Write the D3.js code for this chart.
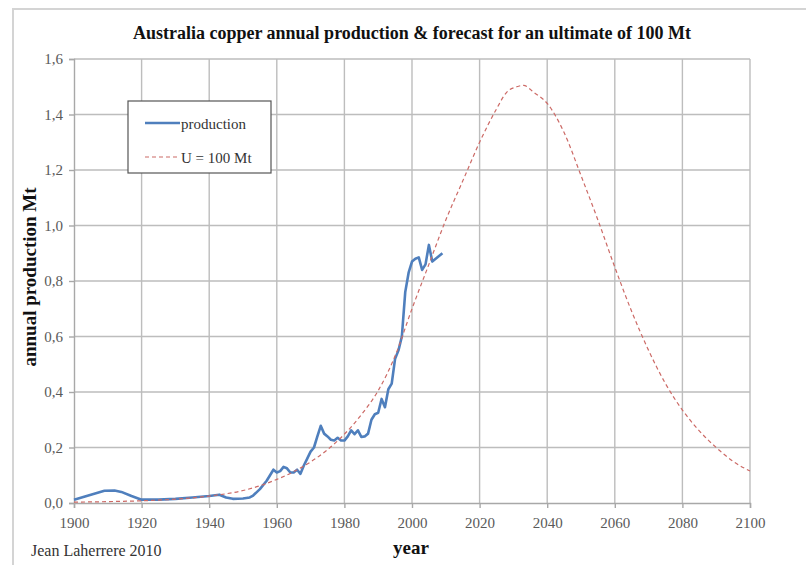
<!DOCTYPE html>
<html>
<head>
<meta charset="utf-8">
<script src="https://cdn.jsdelivr.net/npm/d3@7"></script>
<style>
  html, body { margin: 0; padding: 0; background: #fff; }
  svg { display: block; }
</style>
</head>
<body>
<svg id="chart" width="806" height="565"></svg>
<script>
// Australian copper: historical annual production (Mt)
const prodYears = [1900, 1905, 1909, 1912, 1914, 1917, 1920, 1925, 1930, 1935, 1940, 1943, 1945, 1947, 1950, 1952, 1953,
  1955, 1957, 1958, 1959, 1960, 1961, 1962, 1963, 1964, 1965, 1966, 1967, 1968, 1969, 1970, 1971, 1972, 1973, 1974,
  1975, 1976, 1977, 1978, 1979, 1980, 1981, 1982, 1983, 1984, 1985, 1986, 1987, 1988, 1989, 1990, 1991, 1992, 1993,
  1994, 1995, 1996, 1997, 1998, 1999, 2000, 2001, 2002, 2003, 2004, 2005, 2006, 2007, 2008, 2009];
const prodValues = [0.012, 0.03, 0.044, 0.045, 0.04, 0.025, 0.012, 0.012, 0.015, 0.02, 0.025, 0.03, 0.02, 0.015, 0.016, 0.02, 0.027,
  0.05, 0.08, 0.10, 0.12, 0.11, 0.115, 0.13, 0.125, 0.11, 0.11, 0.12, 0.105, 0.135, 0.16, 0.185, 0.20, 0.24, 0.278, 0.25,
  0.24, 0.228, 0.225, 0.235, 0.225, 0.225, 0.24, 0.262, 0.248, 0.262, 0.238, 0.24, 0.25, 0.30, 0.32, 0.325, 0.375, 0.345, 0.41,
  0.43, 0.52, 0.55, 0.60, 0.76, 0.83, 0.87, 0.88, 0.885, 0.84, 0.86, 0.93, 0.87, 0.88, 0.89, 0.90];

// Forecast curve for an ultimate of 100 Mt
const fcYears = [1900, 1910, 1920, 1930, 1940, 1950, 1955, 1960, 1965, 1970, 1975, 1980, 1985, 1990, 1995, 2000, 2005,
  2010, 2015, 2020, 2025, 2028, 2031, 2033, 2036, 2040, 2045, 2050, 2055, 2060, 2065, 2070, 2075, 2080, 2085, 2090, 2095, 2100];
const fcValues = [0.003, 0.005, 0.008, 0.014, 0.025, 0.045, 0.062, 0.085, 0.113, 0.148, 0.192, 0.248, 0.318, 0.405, 0.53, 0.70, 0.86,
  1.02, 1.16, 1.30, 1.42, 1.48, 1.50, 1.505, 1.48, 1.44, 1.335, 1.18, 1.02, 0.85, 0.69, 0.55, 0.43, 0.335, 0.26, 0.20, 0.15, 0.115];

const xTicks = [1900, 1920, 1940, 1960, 1980, 2000, 2020, 2040, 2060, 2080, 2100];
const yTicks = [0, 0.2, 0.4, 0.6, 0.8, 1.0, 1.2, 1.4, 1.6];

const titleText = "Australia copper annual production & forecast for an ultimate of 100 Mt";
const seriesNames = ["production", "U = 100 Mt"];

const svg = d3.select("#chart");
const serif = "'Liberation Serif', 'Times New Roman', serif";

const plot = { left: 74, right: 750, top: 59, bottom: 503 };
const x = d3.scaleLinear().domain([1900, 2100]).range([plot.left, plot.right]);
const y = d3.scaleLinear().domain([0, 1.6]).range([plot.bottom, plot.top]);

// outer frame
svg.append("rect")
  .attr("x", 13).attr("y", 9).attr("width", 820).attr("height", 600)
  .attr("fill", "none").attr("stroke", "#d4d4d4").attr("stroke-width", 2);

// title
svg.append("text")
  .attr("x", 412).attr("y", 39)
  .attr("text-anchor", "middle")
  .style("font-family", serif).style("font-weight", "bold").style("font-size", "18px")
  .attr("fill", "#111")
  .text(titleText);

const gridColor = "#bdbdbd";

// gridlines
const grid = svg.append("g");
grid.selectAll("line.v").data(xTicks.slice(1)).join("line")
  .attr("x1", d => x(d)).attr("x2", d => x(d))
  .attr("y1", plot.top).attr("y2", plot.bottom)
  .attr("stroke", gridColor).attr("stroke-width", 1.4);
grid.selectAll("line.h").data(yTicks.slice(1)).join("line")
  .attr("x1", plot.left).attr("x2", plot.right)
  .attr("y1", d => y(d)).attr("y2", d => y(d))
  .attr("stroke", gridColor).attr("stroke-width", 1.4);

// axes
const fmt = d => d3.format(".1f")(d).replace(".", ",");
const yAxis = svg.append("g")
  .attr("transform", `translate(${plot.left},0)`)
  .call(d3.axisLeft(y).tickValues(yTicks).tickFormat(fmt).tickSize(5).tickPadding(6));
const xAxis = svg.append("g")
  .attr("transform", `translate(0,${plot.bottom})`)
  .call(d3.axisBottom(x).tickValues(xTicks).tickFormat(d3.format("d")).tickSize(5).tickPadding(9));
[yAxis, xAxis].forEach(g => {
  g.select(".domain").attr("stroke", "#a8a8a8").attr("stroke-width", 1.4);
  g.selectAll(".tick line").attr("stroke", "#a8a8a8").attr("stroke-width", 1.4);
  g.selectAll(".tick text")
    .style("font-family", serif).style("font-size", "15px").attr("fill", "#5a5a5a");
});

// axis titles
svg.append("text")
  .attr("transform", "translate(36,277) rotate(-90)")
  .attr("text-anchor", "middle")
  .style("font-family", serif).style("font-weight", "bold").style("font-size", "19px")
  .attr("fill", "#111")
  .text("annual production Mt");
svg.append("text")
  .attr("x", 411).attr("y", 554)
  .attr("text-anchor", "middle")
  .style("font-family", serif).style("font-weight", "bold").style("font-size", "19px")
  .attr("fill", "#111")
  .text("year");
svg.append("text")
  .attr("x", 31).attr("y", 556)
  .style("font-family", serif).style("font-size", "16px")
  .attr("fill", "#333")
  .text("Jean Laherrere 2010");

// series
const fcData = fcYears.map((yr, i) => ({ yr, v: fcValues[i] }));
const prodData = prodYears.map((yr, i) => ({ yr, v: prodValues[i] }));

const fcLine = d3.line().x(d => x(d.yr)).y(d => y(d.v)).curve(d3.curveMonotoneX);
const prodLine = d3.line().x(d => x(d.yr)).y(d => y(d.v));

const blue = "#4f7fbd";
const red = "#cc6a66";

svg.append("path").datum(prodData)
  .attr("d", prodLine)
  .attr("fill", "none").attr("stroke", blue).attr("stroke-width", 2.6)
  .attr("stroke-linejoin", "round");

svg.append("path").datum(fcData)
  .attr("d", fcLine)
  .attr("fill", "none").attr("stroke", red).attr("stroke-width", 1.2)
  .attr("stroke-dasharray", "4,3");

// legend
const legend = svg.append("g").attr("transform", "translate(128,101)");
legend.append("rect")
  .attr("width", 143).attr("height", 72)
  .attr("fill", "#fff").attr("stroke", "#555").attr("stroke-width", 1.2);
legend.append("line")
  .attr("x1", 17).attr("x2", 52).attr("y1", 22).attr("y2", 22)
  .attr("stroke", blue).attr("stroke-width", 2.6);
legend.append("line")
  .attr("x1", 17).attr("x2", 52).attr("y1", 56).attr("y2", 56)
  .attr("stroke", red).attr("stroke-width", 1.2).attr("stroke-dasharray", "4,3");
legend.selectAll("text.lab").data(seriesNames).join("text")
  .attr("x", 53).attr("y", (d, i) => 28 + i * 34)
  .style("font-family", serif).style("font-size", "15px")
  .attr("fill", "#333")
  .text(d => d);
</script>
</body>
</html>
